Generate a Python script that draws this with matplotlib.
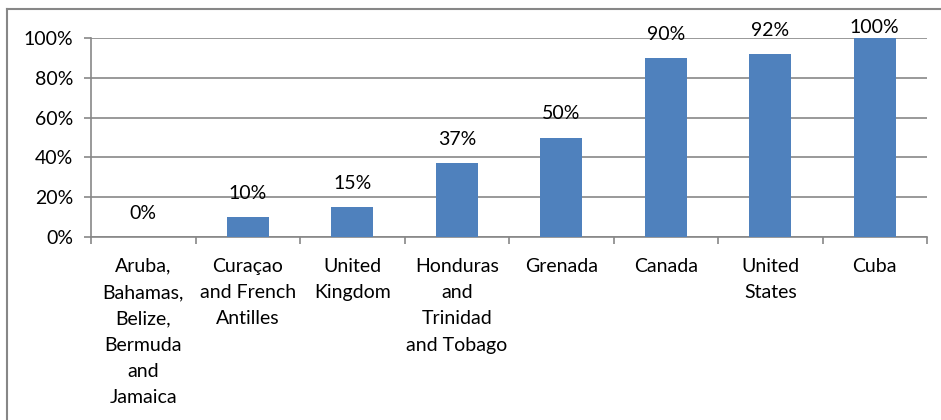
import matplotlib
matplotlib.use("Agg")
import matplotlib.pyplot as plt
from matplotlib.lines import Line2D
import numpy as np

categories = ["Aruba,\nBahamas,\nBelize,\nBermuda\nand\nJamaica",
              "Curaçao\nand French\nAntilles",
              "United\nKingdom",
              "Honduras\nand\nTrinidad\nand Tobago",
              "Grenada",
              "Canada",
              "United\nStates",
              "Cuba"]
values = [0, 10, 15, 37, 50, 90, 92, 100]
yticks = [0, 20, 40, 60, 80, 100]

plt.rcParams['font.family'] = ['Lato', 'DejaVu Sans']
FS = 14
W, H = 941, 420
fig = plt.figure(figsize=(W/100, H/100), dpi=100)
ax = fig.add_axes([91/W, 1-237/H, (927-91)/W, (237-38)/H])

x = np.arange(len(values))
ax.bar(x, values, width=0.4, color="#4F81BD", zorder=3)
ax.set_xlim(-0.5, len(values)-0.5)
ax.set_ylim(0, 100)
ax.set_yticks(yticks)
ax.set_yticklabels([f"{v}%" for v in yticks], fontsize=FS)
ax.yaxis.grid(True, color="#878787", linewidth=1.2, zorder=0)
ax.set_xticks(x)
ax.set_xticklabels(categories, fontsize=FS, linespacing=1.66)
ax.tick_params(axis='x', length=0, pad=15)
ax.set_xticks(np.arange(len(values)+1)-0.5, minor=True)
ax.tick_params(axis='x', which='minor', length=5, color="#878787", width=1.2)
ax.tick_params(axis='y', length=5, color="#878787", width=1.2, pad=8)
for s in ['top', 'right']:
    ax.spines[s].set_visible(False)
for s in ['left', 'bottom']:
    ax.spines[s].set_color("#878787")
    ax.spines[s].set_linewidth(1.2)

for xi, v in zip(x, values):
    ax.text(xi, min(v+12, 105.5), f"{v}%", ha='center', va='center', fontsize=FS, clip_on=False, zorder=4)

fig.add_artist(Line2D([7/W, 7/W], [0, 1-9/H], color="#878787", linewidth=1.5))
fig.add_artist(Line2D([7/W, 1], [1-9/H, 1-9/H], color="#878787", linewidth=1.5))

fig.savefig("out.png", dpi=100)
